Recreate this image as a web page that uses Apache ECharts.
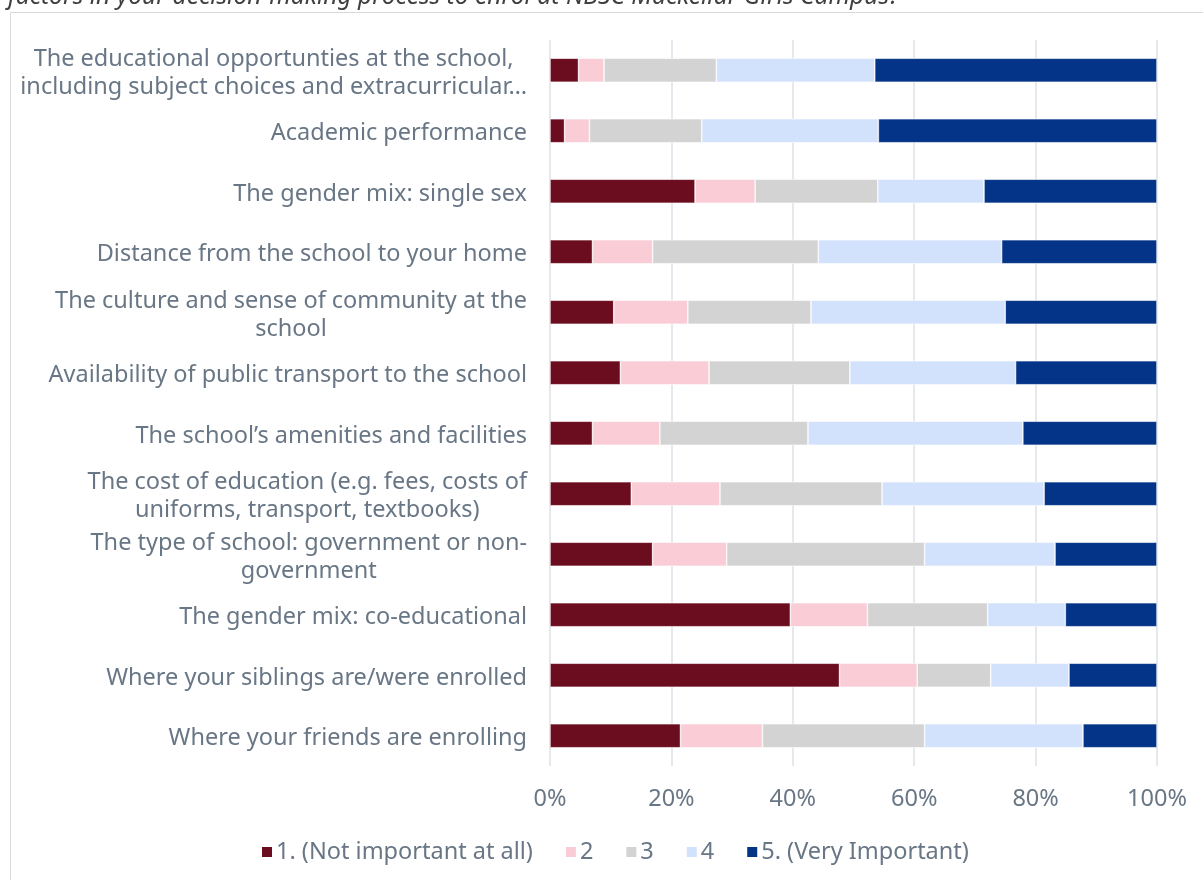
<!DOCTYPE html>
<html>
<head>
<meta charset="utf-8">
<script src="https://cdn.jsdelivr.net/npm/echarts@6/dist/echarts.min.js"></script>
<style>
  html, body { margin: 0; padding: 0; background: #ffffff; }
  #chart { width: 1203px; height: 880px; }
</style>
</head>
<body>
<div id="chart"></div>
<script>
// Survey factors, listed top to bottom
const categories = [
  'The educational opportunties at the school,\nincluding subject choices and extracurricular…',
  'Academic performance',
  'The gender mix: single sex',
  'Distance from the school to your home',
  'The culture and sense of community at the\nschool',
  'Availability of public transport to the school',
  'The school\u2019s amenities and facilities',
  'The cost of education (e.g. fees, costs of\nuniforms, transport, textbooks)',
  'The type of school: government or non-\ngovernment',
  'The gender mix: co-educational',
  'Where your siblings are/were enrolled',
  'Where your friends are enrolling'
];

// Share of responses (%) for each importance rating
const rating1 = [4.7, 2.4, 23.9, 7.0, 10.5, 11.6, 7.0, 13.4, 16.9, 39.6, 47.7, 21.5];
const rating2 = [4.2, 4.1, 9.9, 9.9, 12.2, 14.6, 11.1, 14.6, 12.2, 12.7, 12.8, 13.5];
const rating3 = [18.5, 18.5, 20.2, 27.3, 20.3, 23.2, 24.4, 26.7, 32.6, 19.8, 12.1, 26.7];
const rating4 = [26.1, 29.1, 17.5, 30.2, 32.0, 27.3, 35.4, 26.7, 21.5, 12.8, 12.9, 26.1];
const rating5 = [46.5, 45.9, 28.5, 25.6, 25.0, 23.3, 22.1, 18.6, 16.8, 15.1, 14.5, 12.2];

const seriesNames = ['1. (Not important at all)', '2', '3', '4', '5. (Very Important)'];
const seriesColors = ['#6b0c1f', '#f9ccd6', '#d3d3d3', '#d2e2fc', '#043487'];
const seriesData = [rating1, rating2, rating3, rating4, rating5];

const titleLine = 'factors in your decision-making process to enrol at NBSC Mackellar Girls Campus?';

const textColor = '#687685';
const fontFamily = '"Noto Sans", "Open Sans", sans-serif';
const labelSize = 23.5;

const chart = echarts.init(document.getElementById('chart'), null, { renderer: 'canvas' });

chart.setOption({
  backgroundColor: '#ffffff',
  animation: false,
  graphic: [
    {
      type: 'rect',
      silent: true,
      shape: { x: 10.5, y: 12.5, width: 1220, height: 900 },
      style: { fill: 'none', stroke: '#d9d9d9', lineWidth: 1 }
    },
    {
      type: 'text',
      silent: true,
      x: 8,
      y: 9,
      style: {
        text: titleLine,
        fill: '#404040',
        font: 'italic 24.6px ' + fontFamily,
        verticalAlign: 'bottom',
        align: 'left'
      }
    }
  ],
  legend: {
    data: seriesNames,
    bottom: 11,
    left: 260,
    padding: [5, 0, 5, 0],
    icon: 'rect',
    itemWidth: 12,
    itemHeight: 12,
    itemGap: 31,
    textStyle: { color: textColor, fontSize: labelSize, fontFamily: fontFamily, padding: [0, 0, 0, -2] }
  },
  grid: {
    left: 550,
    right: 46,
    top: 40,
    height: 726,
    containLabel: false
  },
  xAxis: {
    type: 'value',
    min: 0,
    max: 100,
    interval: 20,
    axisLine: { show: false },
    axisTick: { show: false },
    splitLine: { show: true, lineStyle: { color: '#dde1e6', width: 1.5 } },
    axisLabel: {
      formatter: '{value}%',
      color: textColor,
      fontSize: labelSize,
      fontFamily: fontFamily,
      margin: 21
    }
  },
  yAxis: {
    type: 'category',
    data: categories,
    inverse: true,
    axisLine: { show: false },
    axisTick: { show: false },
    axisLabel: {
      color: textColor,
      fontSize: labelSize,
      fontFamily: fontFamily,
      margin: 23,
      lineHeight: 28,
      padding: [6, 0, 0, 0],
      formatter: function (v) {
        return v.split('\n').map(function (l) { return '{c|' + l + '}'; }).join('\n');
      },
      rich: {
        c: { align: 'center', color: textColor, fontSize: labelSize, fontFamily: fontFamily, lineHeight: 28 }
      }
    }
  },
  series: seriesData.map(function (d, i) {
    return {
      name: seriesNames[i],
      type: 'bar',
      stack: 'total',
      data: d,
      barWidth: 24,
      itemStyle: { color: seriesColors[i], borderColor: '#ffffff', borderWidth: 0.6 }
    };
  })
});
</script>
</body>
</html>
